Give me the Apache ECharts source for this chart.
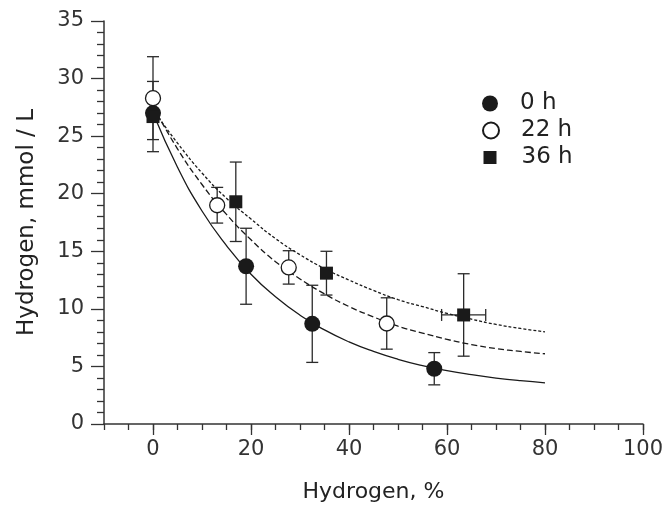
<!DOCTYPE html>
<html><head><meta charset="utf-8">
<script src="https://cdn.jsdelivr.net/npm/echarts@6/dist/echarts.min.js"></script>
<style>html,body{margin:0;padding:0;background:#fff}#c{width:667px;height:506px}</style>
</head><body><div id="c"></div>
<script>
// ---- data ----
const seriesNames = ['0 h', '22 h', '36 h'];
const x0h = [0, 19.0, 32.5, 57.4];
const y0h = [27.0, 13.7, 8.7, 4.8];
const ey0h = [0, 3.3, 3.35, 1.4];
const ex0h = [0, 0, 0, 0];
const x22h = [0, 13.1, 27.7, 47.7];
const y22h = [28.3, 19.0, 13.6, 8.73];
const ey22h = [3.6, 1.55, 1.45, 2.23];
const ex22h = [0, 0, 0, 0];
const x36h = [0, 16.9, 35.4, 63.4];
const y36h = [26.7, 19.3, 13.1, 9.47];
const ey36h = [3.05, 3.45, 1.9, 3.58];
const ex36h = [0, 0, 0, 4.5];
const curveX = [0, 5, 10, 15, 20, 25, 30, 35, 40, 45, 50, 55, 60, 65, 70, 75, 80];
const fit0h = [27.0, 22.3, 18.5, 15.5, 13.0, 11.05, 9.45, 8.17, 7.13, 6.3, 5.62, 5.07, 4.63, 4.28, 3.99, 3.76, 3.58];
const fit22h = [27.6, 23.9, 20.8, 18.2, 16.0, 14.1, 12.6, 11.3, 10.2, 9.3, 8.5, 7.9, 7.35, 6.9, 6.55, 6.3, 6.1];
const fit36h = [27.3, 24.4, 21.8, 19.6, 17.8, 16.1, 14.7, 13.5, 12.5, 11.6, 10.8, 10.2, 9.6, 9.1, 8.65, 8.3, 8.0];
const xMajorTicks = [0, 20, 40, 60, 80, 100];

// ---- helpers ----
const zip2 = (a, b) => a.map((v, i) => [v, b[i]]);
const errData = (x, y, ey, ex) => x.map((v, i) => [v, y[i], ey[i], ex[i]]);
const FONT = 'DejaVu Sans';
const AX = '#333';

function renderErr(params, api) {
  const x = api.value(0), y = api.value(1), ey = api.value(2), ex = api.value(3);
  const children = [];
  const st = { stroke: '#2a2a2a', lineWidth: 1.3 };
  const cap = 6;
  if (ey > 0) {
    const t = api.coord([x, y + ey]), b = api.coord([x, y - ey]);
    children.push({ type: 'line', shape: { x1: t[0], y1: t[1], x2: b[0], y2: b[1] }, style: st });
    children.push({ type: 'line', shape: { x1: t[0] - cap, y1: t[1], x2: t[0] + cap, y2: t[1] }, style: st });
    children.push({ type: 'line', shape: { x1: b[0] - cap, y1: b[1], x2: b[0] + cap, y2: b[1] }, style: st });
  }
  if (ex > 0) {
    const l = api.coord([x - ex, y]), r = api.coord([x + ex, y]);
    children.push({ type: 'line', shape: { x1: l[0], y1: l[1], x2: r[0], y2: r[1] }, style: st });
    children.push({ type: 'line', shape: { x1: l[0], y1: l[1] - cap, x2: l[0], y2: l[1] + cap }, style: st });
    children.push({ type: 'line', shape: { x1: r[0], y1: r[1] - cap, x2: r[0], y2: r[1] + cap }, style: st });
  }
  return { type: 'group', children };
}

const chart = echarts.init(document.getElementById('c'), null, { renderer: 'canvas' });
const legendBase = (name, top, w, h) => ({
  data: [name], left: 477, top: top, orient: 'vertical',
  itemWidth: w, itemHeight: h, selectedMode: false,
  textStyle: { fontFamily: FONT, fontSize: 23, color: '#222', padding: [0, 0, 0, 17] }
});

chart.setOption({
  animation: false,
  backgroundColor: '#fff',
  grid: { left: 104, right: 24, top: 21, bottom: 82, containLabel: false, outerBoundsMode: 'none' },
  legend: [
    legendBase(seriesNames[0], 87, 16, 16),
    legendBase(seriesNames[1], 114, 16, 16),
    Object.assign(legendBase(seriesNames[2], 141, 13, 13), { left: 478.5, textStyle: { fontFamily: FONT, fontSize: 23, color: '#222', padding: [0, 0, 0, 20] } })
  ],
  xAxis: [{
    type: 'value', min: -10, max: 100, interval: 5,
    name: 'Hydrogen, %', nameLocation: 'middle', nameGap: 57,
    nameTextStyle: { fontFamily: FONT, fontSize: 22, color: '#222' },
    axisLine: { show: true, onZero: false, lineStyle: { color: AX, width: 1.5 } },
    axisTick: { show: true, inside: false, length: 6, lineStyle: { color: AX, width: 1.3 } },
    axisLabel: { fontFamily: FONT, fontSize: 21, color: '#333', margin: 15,
      formatter: v => (v % 20 === 0 ? String(v) : '') },
    splitLine: { show: false }
  }, {
    type: 'value', min: -10, max: 100, position: 'bottom', gridIndex: 0,
    axisLine: { show: false, onZero: false },
    axisTick: { show: true, inside: false, length: 11, customValues: xMajorTicks, lineStyle: { color: AX, width: 1.3 } },
    axisLabel: { show: false },
    splitLine: { show: false }
  }],
  yAxis: {
    type: 'value', min: 0, max: 35, interval: 5, position: 'left',
    name: 'Hydrogen, mmol / L', nameLocation: 'middle', nameGap: 65, nameRotate: 90,
    nameTextStyle: { fontFamily: FONT, fontSize: 23, color: '#222' },
    axisLine: { show: true, onZero: false, lineStyle: { color: AX, width: 1.5 } },
    axisTick: { show: true, inside: false, length: 13, lineStyle: { color: AX, width: 1.3 } },
    minorTick: { show: true, splitNumber: 5, length: 7, lineStyle: { color: AX, width: 1.3 } },
    axisLabel: { fontFamily: FONT, fontSize: 21, color: '#333', margin: 20 },
    splitLine: { show: false }
  },
  series: [
    { type: 'custom', name: 'err0', renderItem: renderErr, data: errData(x0h, y0h, ey0h, ex0h), encode: { x: 0, y: 1 }, z: 2, silent: true },
    { type: 'custom', name: 'err22', renderItem: renderErr, data: errData(x22h, y22h, ey22h, ex22h), encode: { x: 0, y: 1 }, z: 2, silent: true },
    { type: 'custom', name: 'err36', renderItem: renderErr, data: errData(x36h, y36h, ey36h, ex36h), encode: { x: 0, y: 1 }, z: 2, silent: true },
    { type: 'line', name: 'fit0', data: zip2(curveX, fit0h), smooth: true, showSymbol: false, symbol: 'none',
      lineStyle: { color: '#1a1a1a', width: 1.3, type: 'solid' }, z: 3 },
    { type: 'line', name: 'fit22', data: zip2(curveX, fit22h), smooth: true, showSymbol: false, symbol: 'none',
      lineStyle: { color: '#1a1a1a', width: 1.3, type: [6, 3] }, z: 3 },
    { type: 'line', name: 'fit36', data: zip2(curveX, fit36h), smooth: true, showSymbol: false, symbol: 'none',
      lineStyle: { color: '#1a1a1a', width: 1.3, type: [3, 2] }, z: 3 },
    { type: 'scatter', name: seriesNames[0], data: zip2(x0h, y0h), symbol: 'circle', symbolSize: 16,
      itemStyle: { color: '#1a1a1a', opacity: 1 }, z: 5 },
    { type: 'scatter', name: seriesNames[1], data: zip2(x22h, y22h), symbol: 'circle', symbolSize: 15,
      itemStyle: { color: '#fff', borderColor: '#1a1a1a', borderWidth: 1.3, opacity: 1 }, z: 5 },
    { type: 'scatter', name: seriesNames[2], data: zip2(x36h, y36h), symbol: 'rect', symbolSize: 13,
      itemStyle: { color: '#1a1a1a', opacity: 1 }, z: 5 }
  ]
});
</script>
</body></html>
